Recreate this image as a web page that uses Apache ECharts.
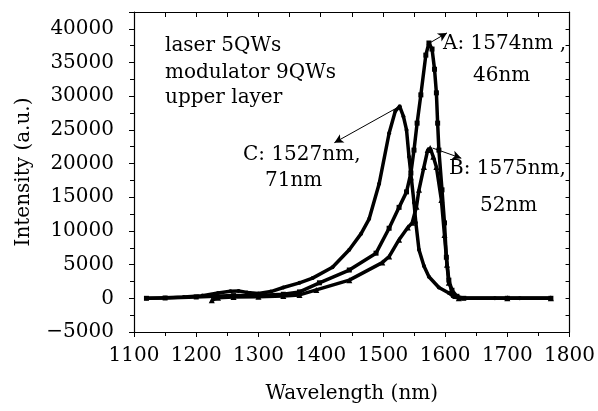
<!DOCTYPE html>
<html>
<head>
<meta charset="utf-8">
<script src="https://cdn.jsdelivr.net/npm/echarts@6/dist/echarts.min.js"></script>
<style>
  html, body { margin: 0; padding: 0; background: #fff; }
  #chart { width: 598px; height: 411px; }
</style>
</head>
<body>
<div id="chart"></div>
<script>
// values: [wavelength nm, intensity a.u.]
const curveC = [
  [1120, 0], [1150, 100], [1180, 200], [1210, 400], [1235, 800], [1255, 1050], [1268, 1100],
  [1282, 850], [1300, 700], [1320, 1000], [1340, 1600], [1366, 2300], [1387, 3000], [1419, 4600],
  [1446, 7200], [1465, 9600], [1478, 11800], [1494, 17000], [1510, 24500], [1520, 27800],
  [1527, 28500], [1533, 27000], [1538, 25000], [1542, 21000], [1546, 17600], [1550, 14200],
  [1553, 11200], [1558, 7200], [1566, 4800], [1574, 3200], [1590, 1600], [1606, 800],
  [1614, 200], [1625, 0], [1680, 0], [1720, 0], [1770, 0]
];
const curveA = [
  [1120, 0], [1150, 50], [1200, 200], [1230, 300], [1260, 400], [1300, 400], [1340, 600],
  [1366, 950], [1398, 2300], [1446, 4200], [1489, 6700], [1510, 10400], [1526, 13500],
  [1538, 15800], [1545, 18600], [1550, 22000], [1555, 26000], [1561, 30200], [1569, 36100],
  [1574, 37900], [1579, 37000], [1583, 34000], [1586, 30500], [1588, 26000], [1590, 22000],
  [1595, 16100], [1599, 11200], [1602, 6100], [1606, 2700], [1611, 1200], [1619, 300],
  [1630, 0], [1700, 0], [1770, 0]
];
const curveB = [
  [1225, -300], [1235, 100], [1260, 200], [1300, 250], [1340, 350], [1366, 500], [1393, 1250],
  [1446, 2700], [1499, 5300], [1510, 6200], [1526, 8700], [1540, 10500], [1547, 11200],
  [1554, 13600], [1558, 16100], [1566, 19500], [1572, 22000], [1576, 22300], [1581, 21000],
  [1586, 19500], [1594, 14600], [1599, 9400], [1603, 5000], [1606, 2300], [1614, 500],
  [1622, 0], [1700, 0], [1770, 0]
];

// annotation arrows: [from, to] in data units
const arrowC = [[1527, 28500], [1422, 23100]];
const arrowA = [[1577, 38000], [1603, 39400]];
const arrowB = [[1580, 22300], [1626, 20800]];

const infoLines = ['laser 5QWs', 'modulator 9QWs', 'upper layer'];

const FONT = 'DejaVu Serif';
const chart = echarts.init(document.getElementById('chart'));

function arrow(pts) {
  return {
    silent: true,
    symbol: ['none', 'arrow'],
    symbolSize: [7, 9],
    lineStyle: { color: '#000', width: 1, type: 'solid' },
    label: { show: false },
    data: [[{ coord: pts[0] }, { coord: pts[1] }]]
  };
}

function curve(name, data, symbol, size, arr) {
  return {
    name: name,
    type: 'line',
    data: data,
    symbol: symbol,
    symbolSize: size,
    showAllSymbol: true,
    itemStyle: { color: '#000' },
    lineStyle: { color: '#000', width: 3.5 },
    markLine: arr ? arrow(arr) : undefined,
    animation: false,
    z: 3
  };
}

const txt = (x, y, s) => ({
  type: 'text', left: x, top: y,
  style: { text: s, font: '20px "' + FONT + '"', fill: '#000' }
});

chart.setOption({
  backgroundColor: '#fff',
  animation: false,
  grid: { left: 134, right: 27, top: 12, bottom: 79 },
  xAxis: [{
    type: 'value', min: 1100, max: 1800, interval: 100,
    name: 'Wavelength (nm)', nameLocation: 'middle', nameGap: 52,
    nameTextStyle: { fontFamily: FONT, fontSize: 20, color: '#000' },
    axisLine: { onZero: false, lineStyle: { color: '#000', width: 1.2 } },
    axisTick: { length: 5, lineStyle: { color: '#000' } },
    minorTick: { show: true, splitNumber: 2, length: 4, lineStyle: { color: '#000' } },
    axisLabel: { fontFamily: FONT, fontSize: 20, color: '#000', margin: 14, formatter: v => String(v) },
    splitLine: { show: false }
  }, {
    type: 'value', position: 'top', min: 1100, max: 1800, interval: 50,
    axisLine: { onZero: false, lineStyle: { color: '#000', width: 1.2 } },
    axisTick: { inside: true, length: 5, lineStyle: { color: '#000' } },
    axisLabel: { show: false },
    splitLine: { show: false }
  }],
  yAxis: [{
    type: 'value', min: -5000, max: 42500, interval: 5000,
    name: 'Intensity (a.u.)', nameLocation: 'middle', nameGap: 100,
    nameTextStyle: { fontFamily: FONT, fontSize: 20, color: '#000' },
    axisLine: { show: true, onZero: false, lineStyle: { color: '#000', width: 1.2 } },
    axisTick: { show: true, length: 5, lineStyle: { color: '#000' } },
    minorTick: { show: true, splitNumber: 2, length: 4, lineStyle: { color: '#000' } },
    axisLabel: { fontFamily: FONT, fontSize: 20, color: '#000', margin: 20, showMaxLabel: false,
      formatter: v => (v < 0 ? '\u2212' + Math.abs(v) : String(v)) },
    splitLine: { show: false }
  }, {
    type: 'value', position: 'right', min: -5000, max: 42500, interval: 2500,
    axisLine: { show: true, onZero: false, lineStyle: { color: '#000', width: 1.2 } },
    axisTick: { show: true, inside: true, length: 4, lineStyle: { color: '#000' } },
    axisLabel: { show: false },
    splitLine: { show: false }
  }],
  series: [
    curve('C', curveC, 'circle', 4, arrowC),
    curve('A', curveA, 'rect', 5, arrowA),
    curve('B', curveB, 'triangle', 6, arrowB)
  ],
  graphic: [
    txt(165, 36, infoLines[0]),
    txt(165, 63, infoLines[1]),
    txt(165, 88, infoLines[2]),
    txt(443, 34, 'A: 1574nm ,'),
    txt(473, 66, '46nm'),
    txt(449, 159, 'B: 1575nm,'),
    txt(480, 196, '52nm'),
    txt(243, 145, 'C: 1527nm,'),
    txt(265, 171, '71nm')
  ]
});
</script>
</body>
</html>
